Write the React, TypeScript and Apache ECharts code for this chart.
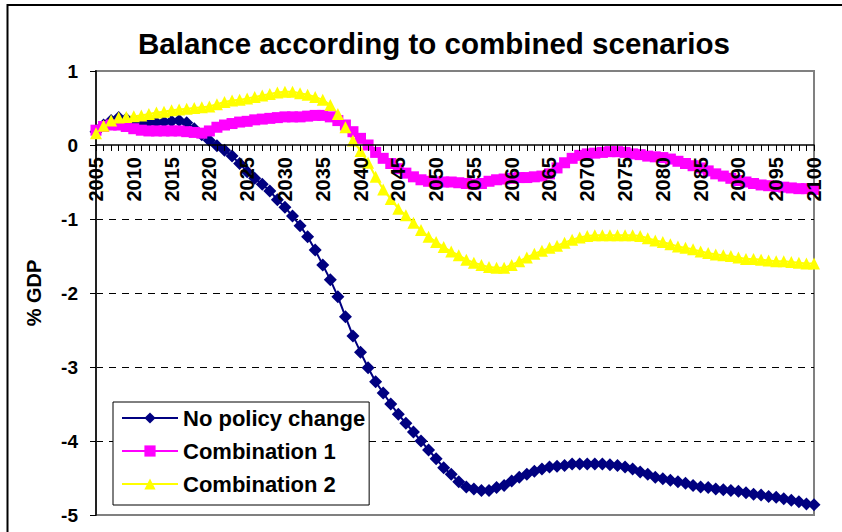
import React, { useEffect, useRef } from "react";
import * as echarts from "echarts";

const FONT = "'Liberation Sans', Arial, Helvetica, sans-serif";

const TITLE = "Balance according to combined scenarios";
const Y_NAME = "% GDP";
const SERIES_NAMES = ["No policy change", "Combination 1", "Combination 2"];
const SERIES_COLORS = ["#000080", "#FF00FF", "#FFFF00"];

const FIRST_YEAR = 2005;
const LAST_YEAR = 2100;
const years: string[] = [];
for (let y = FIRST_YEAR; y <= LAST_YEAR; y++) years.push(String(y));

const noPolicyChange = [
  0.18, 0.27, 0.33, 0.37, 0.35, 0.33, 0.31, 0.30, 0.30, 0.31,
  0.32, 0.33, 0.30, 0.22, 0.14, 0.06, -0.01, -0.07, -0.15, -0.25,
  -0.36, -0.45, -0.53, -0.62, -0.74, -0.84, -0.96, -1.09, -1.24, -1.42,
  -1.62, -1.82, -2.05, -2.32, -2.58, -2.80, -3.01, -3.20, -3.35, -3.50,
  -3.64, -3.76, -3.88, -4.00, -4.12, -4.24, -4.36, -4.45, -4.55, -4.62,
  -4.65, -4.67, -4.67, -4.63, -4.60, -4.54, -4.49, -4.45, -4.41, -4.38,
  -4.35, -4.34, -4.33, -4.31, -4.31, -4.31, -4.31, -4.31, -4.32, -4.33,
  -4.35, -4.38, -4.42, -4.45, -4.49, -4.51, -4.53, -4.55, -4.57, -4.60,
  -4.62, -4.63, -4.65, -4.66, -4.67, -4.68, -4.70, -4.72, -4.73, -4.75,
  -4.76, -4.78, -4.80, -4.82, -4.85, -4.86,
];

const combination1 = [
  0.20, 0.25, 0.27, 0.27, 0.25, 0.22, 0.20, 0.19, 0.19, 0.19,
  0.19, 0.19, 0.18, 0.17, 0.16, 0.19, 0.24, 0.27, 0.29, 0.31,
  0.32, 0.34, 0.35, 0.36, 0.37, 0.38, 0.38, 0.38, 0.39, 0.40,
  0.40, 0.38, 0.33, 0.27, 0.18, 0.09, 0.00, -0.10, -0.18, -0.25,
  -0.32, -0.38, -0.43, -0.47, -0.49, -0.50, -0.50, -0.50, -0.51, -0.52,
  -0.53, -0.52, -0.49, -0.47, -0.46, -0.45, -0.44, -0.44, -0.43, -0.42,
  -0.39, -0.31, -0.24, -0.18, -0.14, -0.12, -0.11, -0.10, -0.09, -0.09,
  -0.10, -0.12, -0.13, -0.15, -0.16, -0.17, -0.19, -0.22, -0.25, -0.28,
  -0.31, -0.35, -0.39, -0.42, -0.45, -0.48, -0.50, -0.52, -0.54, -0.55,
  -0.56, -0.57, -0.58, -0.59, -0.59, -0.60,
];

const combination2 = [
  0.16, 0.26, 0.33, 0.37, 0.38, 0.39, 0.40, 0.42, 0.44, 0.45,
  0.47, 0.48, 0.49, 0.50, 0.51, 0.52, 0.55, 0.58, 0.60, 0.61,
  0.63, 0.65, 0.67, 0.69, 0.71, 0.72, 0.72, 0.70, 0.68, 0.65,
  0.61, 0.54, 0.42, 0.24, 0.06, -0.08, -0.24, -0.43, -0.60, -0.73,
  -0.86, -0.95, -1.05, -1.15, -1.24, -1.31, -1.38, -1.44, -1.49, -1.55,
  -1.59, -1.62, -1.65, -1.66, -1.66, -1.62, -1.57, -1.52, -1.47, -1.43,
  -1.39, -1.36, -1.32, -1.28, -1.25, -1.23, -1.22, -1.22, -1.22, -1.22,
  -1.22, -1.22, -1.23, -1.26, -1.29, -1.31, -1.34, -1.37, -1.39, -1.41,
  -1.44, -1.46, -1.48, -1.49, -1.50, -1.52, -1.54, -1.54, -1.55, -1.56,
  -1.57, -1.57, -1.58, -1.59, -1.60, -1.60,
];

const SERIES_DATA = [noPolicyChange, combination1, combination2];
const SERIES_SYMBOLS = ["diamond", "rect", "triangle"];
const SERIES_SYMBOL_SIZES = [13, 11, 12];

const Y_MIN = -5;
const Y_MAX = 1;
const Y_STEP = 1;

const GRID_TOP = 71;
const GRID_BOTTOM = 17;
const CHART_H = 532;

export default function App() {
  const ref = useRef<HTMLDivElement>(null);

  useEffect(() => {
    if (!ref.current) return;
    const chart = echarts.init(ref.current, undefined, { renderer: "svg" });

    // position the category axis on the zero line of the value axis
    const gridHeight = CHART_H - GRID_TOP - GRID_BOTTOM;
    const zeroOffset = -gridHeight * (0 - Y_MIN) / (Y_MAX - Y_MIN);

    const option: any = {
      animation: false,
      backgroundColor: "#ffffff",
      title: {
        text: TITLE,
        left: 138,
        top: 28,
        padding: 0,
        textStyle: { fontFamily: FONT, fontSize: 29.5, fontWeight: "bold", color: "#000" },
      },
      graphic: [
        {
          type: "polyline",
          shape: { points: [[7.5, 700], [7.5, 5], [1000, 5]] },
          style: { stroke: "#000", lineWidth: 2, fill: "none" },
          silent: true,
          z: 100,
        },
      ],
      grid: {
        left: 96,
        right: 28,
        top: GRID_TOP,
        bottom: GRID_BOTTOM,
        outerBoundsMode: "none",
        containLabel: false,
        show: true,
        borderColor: "#808080",
        borderWidth: 2,
        backgroundColor: "transparent",
      },
      legend: {
        orient: "vertical",
        left: 113,
        top: 402,
        padding: [4, 4, 9, 8],
        itemGap: 9,
        itemWidth: 56,
        itemHeight: 14,
        borderColor: "#000",
        borderWidth: 1,
        backgroundColor: "#fff",
        z: 20,
        textStyle: { fontFamily: FONT, fontSize: 22, fontWeight: "bold", color: "#000", lineHeight: 24 },
        data: SERIES_NAMES,
      },
      xAxis: {
        type: "category",
        data: years,
        boundaryGap: false,
        position: "bottom",
        offset: zeroOffset,
        z: 10,
        axisLine: { show: true, onZero: false, lineStyle: { color: "#000", width: 1.5 } },
        axisTick: { show: true, interval: 0, length: 6, lineStyle: { color: "#000", width: 1 } },
        axisLabel: {
          interval: 4,
          rotate: 90,
          margin: 12,
          hideOverlap: false,
          fontFamily: FONT,
          fontSize: 20,
          fontWeight: "bold",
          color: "#000",
        },
        splitLine: { show: false },
      },
      yAxis: {
        type: "value",
        min: Y_MIN,
        max: Y_MAX,
        interval: Y_STEP,
        name: Y_NAME,
        nameLocation: "middle",
        nameRotate: 90,
        nameGap: 52,
        nameTextStyle: { fontFamily: FONT, fontSize: 20, fontWeight: "bold", color: "#000" },
        axisLine: { show: true, lineStyle: { color: "#222", width: 2 } },
        axisTick: { show: true, length: 6, lineStyle: { color: "#000", width: 1 } },
        axisLabel: { margin: 18, fontFamily: FONT, fontSize: 19, fontWeight: "bold", color: "#000" },
        splitLine: {
          show: true,
          lineStyle: {
            color: ["transparent", "#000", "#000", "#000", "#000", "transparent", "transparent"],
            type: [7, 6],
            width: 1,
          },
        },
      },
      series: SERIES_NAMES.map((name, i) => ({
        name,
        type: "line",
        data: SERIES_DATA[i],
        symbol: SERIES_SYMBOLS[i],
        symbolSize: SERIES_SYMBOL_SIZES[i],
        showAllSymbol: true,
        lineStyle: { color: SERIES_COLORS[i], width: 2 },
        itemStyle: { color: SERIES_COLORS[i], borderWidth: 0 },
        emphasis: { disabled: true },
      })),
    };

    chart.setOption(option);
    return () => chart.dispose();
  }, []);

  return (
    <div
      ref={ref}
      style={{ position: "absolute", left: 0, top: 0, width: 842, height: 532, background: "#fff" }}
    />
  );
}
